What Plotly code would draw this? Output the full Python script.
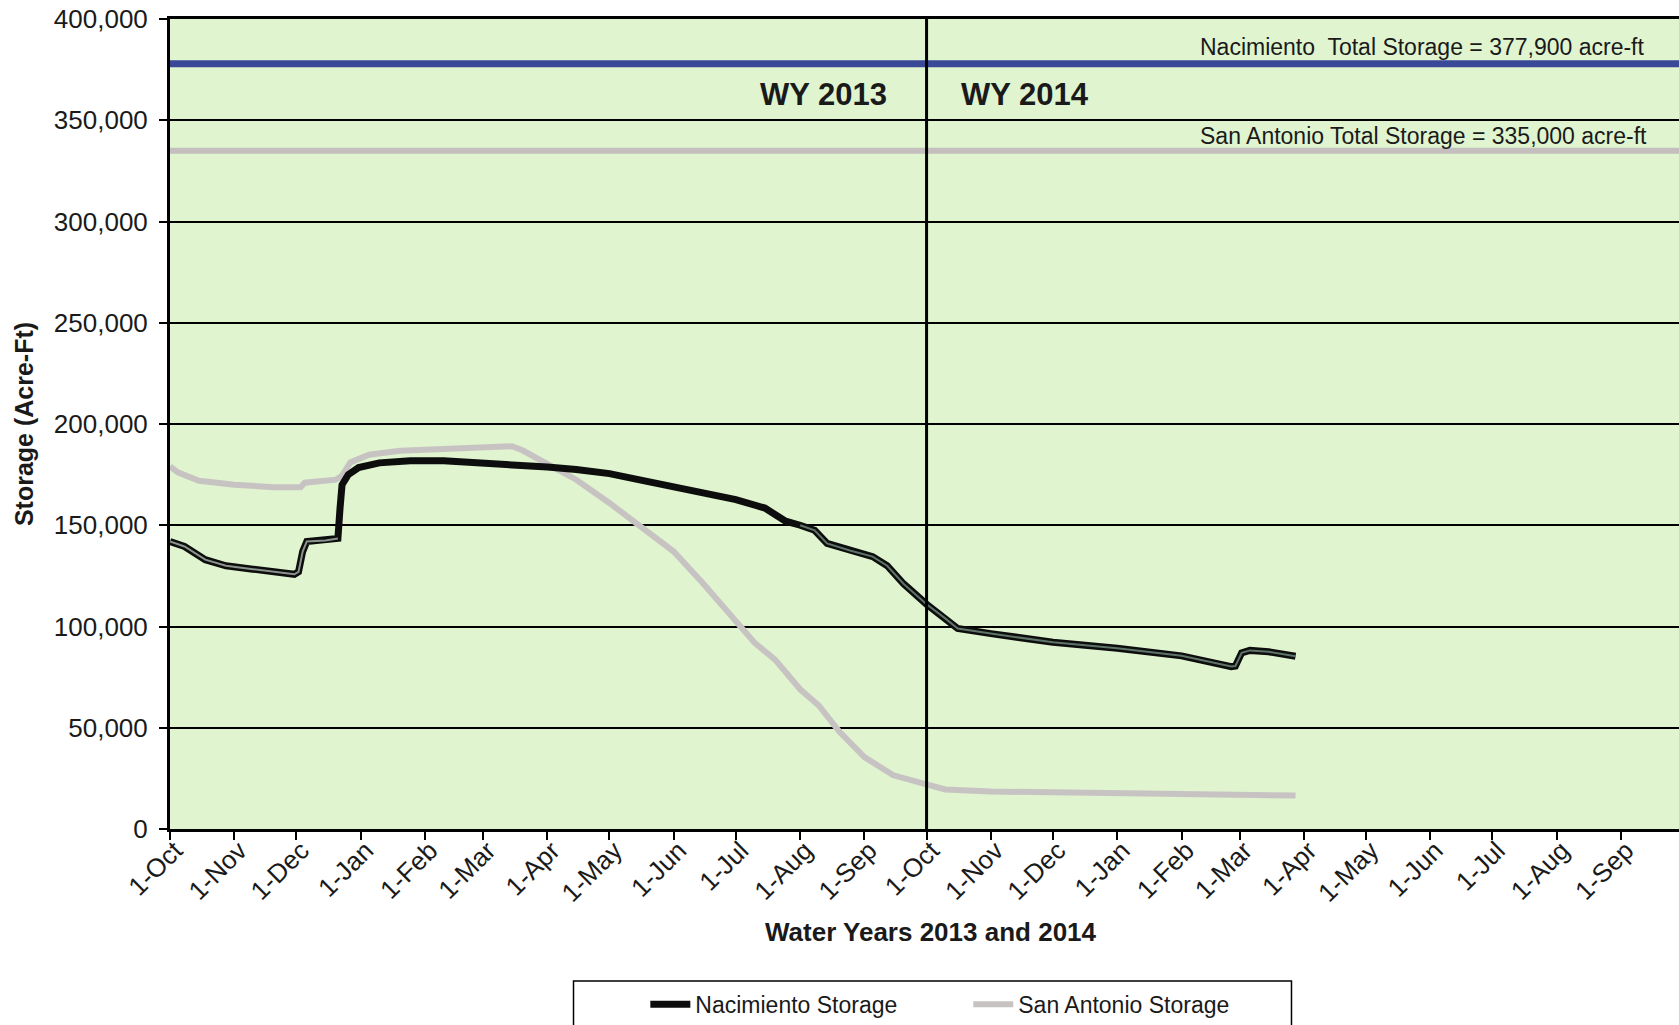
import plotly.graph_objects as go

# ---------------- data ----------------
nac_dates = ["2012-10-01", "2012-10-08", "2012-10-18", "2012-10-28", "2012-11-10", "2012-11-22",
             "2012-11-30", "2012-12-02", "2012-12-04", "2012-12-06", "2012-12-15", "2012-12-21",
             "2012-12-22", "2012-12-23", "2012-12-26", "2012-12-31", "2013-01-10", "2013-01-25",
             "2013-02-10", "2013-03-01", "2013-03-20", "2013-04-01", "2013-04-15", "2013-05-01",
             "2013-05-15", "2013-06-01", "2013-06-15", "2013-07-01", "2013-07-15", "2013-07-25",
             "2013-08-01", "2013-08-08", "2013-08-14", "2013-08-25", "2013-09-05", "2013-09-12",
             "2013-09-20", "2013-10-01", "2013-10-10", "2013-10-16", "2013-11-01", "2013-12-01",
             "2014-01-01", "2014-02-01", "2014-02-25", "2014-02-27", "2014-03-02", "2014-03-06",
             "2014-03-15", "2014-03-28"]
nac_values = [142000, 139500, 133000, 130000, 128300, 126800,
              125800, 127000, 137000, 142000, 142500, 143500,
              158000, 170000, 175000, 178500, 180800, 181800,
              181800, 180700, 180200, 178800, 177500, 175500,
              172500, 168700, 166000, 162700, 158500, 152000,
              150000, 147500, 141000, 137500, 134500, 130000,
              121000, 111000, 104000, 99000, 96500, 92200,
              89300, 85500, 80200, 80500, 87000, 88200,
              87500, 85300]

sa_dates = ["2012-10-01", "2012-10-05", "2012-10-15", "2012-11-01", "2012-11-20", "2012-12-03",
            "2012-12-05", "2012-12-20", "2012-12-23", "2012-12-27", "2013-01-05", "2013-01-20",
            "2013-02-10", "2013-03-01", "2013-03-15", "2013-03-20", "2013-04-01", "2013-04-15",
            "2013-05-01", "2013-05-15", "2013-06-01", "2013-06-15", "2013-07-01", "2013-07-10",
            "2013-07-20", "2013-08-01", "2013-08-10", "2013-08-20", "2013-09-01", "2013-09-15",
            "2013-10-01", "2013-10-10", "2013-11-01", "2014-01-01", "2014-03-28"]
sa_values = [179000, 176000, 172000, 170000, 168800, 168800,
             171000, 172500, 174500, 181000, 184800, 186800,
             187600, 188300, 189000, 187000, 180500, 172500,
             161000, 150500, 137000, 121500, 103000, 92000,
             83500, 69000, 61000, 48000, 35500, 26500,
             22000, 19500, 18500, 17500, 16500]

nac_capacity = 377900
sa_capacity = 335000
wy_boundary = "2013-10-01"

tick_dates = ["2012-10-01", "2012-11-01", "2012-12-01", "2013-01-01", "2013-02-01", "2013-03-01",
              "2013-04-01", "2013-05-01", "2013-06-01", "2013-07-01", "2013-08-01", "2013-09-01",
              "2013-10-01", "2013-11-01", "2013-12-01", "2014-01-01", "2014-02-01", "2014-03-01",
              "2014-04-01", "2014-05-01", "2014-06-01", "2014-07-01", "2014-08-01", "2014-09-01"]
tick_labels = ["1-Oct", "1-Nov", "1-Dec", "1-Jan", "1-Feb", "1-Mar", "1-Apr", "1-May", "1-Jun",
               "1-Jul", "1-Aug", "1-Sep", "1-Oct", "1-Nov", "1-Dec", "1-Jan", "1-Feb", "1-Mar",
               "1-Apr", "1-May", "1-Jun", "1-Jul", "1-Aug", "1-Sep"]
y_ticks = [0, 50000, 100000, 150000, 200000, 250000, 300000, 350000, 400000]

FONT = "Arial, 'Liberation Sans', sans-serif"
TXT = "#1a1a1a"

fig = go.Figure()

fig.add_trace(go.Scatter(x=sa_dates, y=sa_values, mode="lines", name="San Antonio Storage",
                         line=dict(color="#c8c3c3", width=6), legend="legend2"))
fig.add_trace(go.Scatter(x=nac_dates, y=nac_values, mode="lines", name="Nacimiento Storage",
                         line=dict(color="#0d0d0d", width=7), legend="legend"))
# inner lighter core of the scanned Nacimiento line (early and late parts)
fig.add_trace(go.Scatter(x=nac_dates[:12], y=nac_values[:12], mode="lines", showlegend=False,
                         line=dict(color="#8a948c", width=2), hoverinfo="skip"))
fig.add_trace(go.Scatter(x=nac_dates[30:], y=nac_values[30:], mode="lines", showlegend=False,
                         line=dict(color="#5f7468", width=2), hoverinfo="skip"))

# capacity lines and water-year boundary
fig.add_hline(y=nac_capacity, line=dict(color="#3a4898", width=7), layer="above")
fig.add_hline(y=sa_capacity, line=dict(color="#c4bebe", width=6), layer="above")
fig.add_vline(x=wy_boundary, line=dict(color="black", width=3), layer="above")

fig.add_annotation(x=1.0, xref="paper", xanchor="right", xshift=-33, y=nac_capacity, yref="y",
                   yanchor="bottom", yshift=2, showarrow=False,
                   text="Nacimiento  Total Storage = 377,900 acre-ft",
                   font=dict(family=FONT, size=23, color=TXT))
fig.add_annotation(x=1.0, xref="paper", xanchor="right", xshift=-30, y=sa_capacity, yref="y",
                   yanchor="bottom", yshift=0, showarrow=False,
                   text="San Antonio Total Storage = 335,000 acre-ft",
                   font=dict(family=FONT, size=23, color=TXT))
fig.add_annotation(x=wy_boundary, xref="x", xanchor="right", xshift=-38, y=362500, yref="y",
                   showarrow=False, text="WY 2013",
                   font=dict(family=FONT, size=31, color=TXT, weight="bold"))
fig.add_annotation(x=wy_boundary, xref="x", xanchor="left", xshift=32, y=362500, yref="y",
                   showarrow=False, text="WY 2014",
                   font=dict(family=FONT, size=31, color=TXT, weight="bold"))
# x-axis title (the original's plot area runs past the page edge, so it is centred a bit right)
fig.add_annotation(x=0.5046, xref="paper", y=-0.127, yref="paper", yanchor="middle",
                   showarrow=False, text="Water Years 2013 and 2014",
                   font=dict(family=FONT, size=26, color=TXT, weight="bold"))

# legend frame
fig.add_shape(type="rect", xref="paper", yref="paper", x0=0.2674, x1=0.7432, y0=-0.1877, y1=-0.26,
              line=dict(color="black", width=1.5), fillcolor="rgba(0,0,0,0)", layer="above")

fig.update_layout(
    width=1679, height=1025,
    margin=dict(l=170, r=0, t=19, b=196, autoexpand=False),
    paper_bgcolor="white",
    plot_bgcolor="#dff4cf",
    font=dict(family=FONT, color=TXT),
    legend=dict(x=0.315, xanchor="left", y=-0.190, yanchor="top", orientation="h",
                bgcolor="rgba(0,0,0,0)", font=dict(family=FONT, size=23, color=TXT),
                itemwidth=40),
    legend2=dict(x=0.529, xanchor="left", y=-0.190, yanchor="top", orientation="h",
                 bgcolor="rgba(0,0,0,0)", font=dict(family=FONT, size=23, color=TXT),
                 itemwidth=40),
    xaxis=dict(
        type="date", range=["2012-10-01", "2014-09-29"], automargin=False,
        tickmode="array", tickvals=tick_dates, ticktext=tick_labels, tickangle=-45,
        tickfont=dict(family=FONT, size=26, color=TXT), ticklabeloverflow="allow",
        ticklabelstandoff=-15, ticklabelshift=5,
        ticks="outside", ticklen=8, tickwidth=2, tickcolor="black",
        showline=True, linecolor="black", linewidth=3, mirror=True,
        showgrid=False, zeroline=False,
    ),
    yaxis=dict(
        range=[0, 400000], tickmode="array", tickvals=y_ticks, tickformat=",", automargin=False,
        tickfont=dict(family=FONT, size=26, color=TXT), ticklabeloverflow="allow",
        ticks="outside", ticklen=8, tickwidth=2, tickcolor="black",
        ticklabelstandoff=6,
        showline=True, linecolor="black", linewidth=3,
        showgrid=True, gridcolor="black", gridwidth=1.5, zeroline=False,
        title=dict(text="Storage (Acre-Ft)", standoff=14,
                   font=dict(family=FONT, size=25, color=TXT, weight="bold")),
    ),
)

# remove the browser's default page margin so the 1679x1025 figure fills the window exactly
fig.write_html("out.html", config={"displayModeBar": False},
               post_script="document.body.style.margin='0';document.body.style.overflow='hidden';")
